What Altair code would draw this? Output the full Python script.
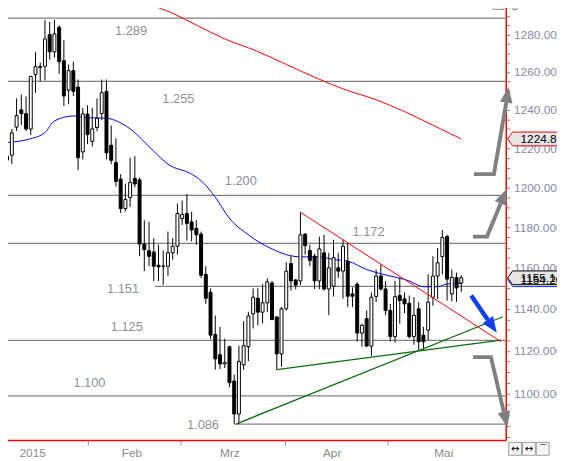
import altair as alt
import pandas as pd

# ---------------- data ----------------
# daily candles (trading-day index 0..97)
opens = [1219, 1216, 1216.5, 1231, 1240, 1238, 1230, 1258.6, 1262.3, 1263,
         1280, 1270.7, 1284, 1266, 1250.3, 1260.7, 1252, 1218.2, 1237.8, 1223.6,
         1230.8, 1238.1, 1249.7, 1221.6, 1212.7, 1204.3, 1189.4, 1194.9, 1204.6, 1203.9,
         1171.7, 1168.4, 1167.8, 1161.3, 1160.8, 1160.8, 1167.4, 1170.6, 1184.4, 1186.9,
         1182.7, 1179.5, 1176.6, 1156.8, 1148.1, 1127.8, 1118.2, 1113.9, 1122, 1105.9,
         1090.6, 1113.5, 1122, 1137.7, 1145.2, 1138.5, 1143, 1152.6, 1136.2, 1118.6,
         1140.1, 1162.1, 1154.1, 1153.6, 1176.6, 1168.5, 1165.7, 1153.6, 1167.4, 1149.7,
         1151, 1160, 1158.4, 1163.3, 1147.3, 1152, 1128.5, 1135.4, 1122.3, 1146.1,
         1156, 1149.7, 1139.3, 1126.8, 1146.5, 1144.9, 1142.8, 1126.8, 1140.1, 1127.5,
         1129.9, 1145.7, 1156, 1165.5, 1175.4, 1147.3, 1155.3, 1152.6]
highs = [1223, 1218, 1230, 1246, 1248, 1247, 1258, 1270.7, 1265, 1288,
         1287, 1288, 1285, 1277, 1264, 1265.5, 1256, 1241, 1242.4, 1241,
         1246, 1256, 1256, 1231.8, 1225.3, 1206.8, 1202, 1215.2, 1216, 1205,
         1183.6, 1182.8, 1174.6, 1171.4, 1168.5, 1177.9, 1174.6, 1191.9, 1193.5, 1196.8,
         1187.7, 1183.6, 1177.9, 1160.8, 1150, 1136.9, 1131.5, 1125.8, 1122.5, 1108.9,
         1122.5, 1134.2, 1138.7, 1150, 1150, 1152, 1154.8, 1153.6, 1136.5, 1141,
         1162.8, 1166, 1154.5, 1187.7, 1177.1, 1171.4, 1166.9, 1175.4, 1176.3, 1167.4,
         1173.8, 1167.4, 1173.8, 1172.2, 1150.5, 1153, 1133, 1139.3, 1148, 1159.2,
         1161.7, 1153.6, 1142.5, 1153.6, 1155.3, 1148, 1146.5, 1145.7, 1143.3, 1131.5,
         1156.8, 1165.7, 1169.8, 1178.7, 1176.3, 1159.2, 1157.7, 1156.4]
lows = [1211, 1209, 1212, 1229, 1232, 1229, 1227, 1249, 1255, 1255.5,
        1266.5, 1267.7, 1259, 1242, 1243, 1247.3, 1208.8, 1214.4, 1222.2, 1221,
        1228.8, 1234.7, 1214.4, 1211.9, 1200.5, 1187.2, 1188, 1190.2, 1200.1, 1165.7,
        1158.4, 1160.8, 1153.6, 1153.6, 1151.6, 1156, 1164, 1166.5, 1181.2, 1173.5,
        1173, 1171.4, 1155, 1142.5, 1125.6, 1111.2, 1111.5, 1112, 1103.1, 1086.1,
        1086.1, 1111.2, 1115.2, 1130.7, 1132.2, 1133.2, 1138.5, 1134.6, 1111.2, 1112.6,
        1139.3, 1148.9, 1149.6, 1151.6, 1166.5, 1160.8, 1149.6, 1149.6, 1148.9, 1137,
        1146, 1155, 1145, 1141, 1141, 1124.5, 1122, 1122, 1117.7, 1143.4,
        1148.9, 1137, 1124.5, 1124, 1133, 1138, 1126, 1123, 1120.5, 1120.5,
        1125.2, 1141.6, 1144.9, 1156.8, 1144.1, 1143.7, 1143.5, 1148.2]
closes = [1214, 1214, 1228, 1237, 1238, 1230, 1257.6, 1262.8, 1263, 1277.7,
          1270.7, 1280.4, 1265.5, 1247.3, 1260.7, 1249.7, 1215.2, 1237.8, 1227.1, 1230.1,
          1235.6, 1249, 1217.7, 1213.9, 1203.1, 1189.4, 1194, 1202.6, 1201.8, 1171.7,
          1168.9, 1165.7, 1160.8, 1160.5, 1160.9, 1167.4, 1170.6, 1186.9, 1186.4, 1182,
          1178.7, 1176.3, 1156.4, 1145.2, 1127.5, 1116.3, 1113.9, 1114.6, 1105.1, 1090.6,
          1115.1, 1122.5, 1136.7, 1145.7, 1138.5, 1143, 1153.2, 1135, 1118.6, 1140.1,
          1158.4, 1153.6, 1151.6, 1176.3, 1170.9, 1163.6, 1153.6, 1169.3, 1149.7, 1160,
          1165, 1158.4, 1170.6, 1146.2, 1146.2, 1128.5, 1132.2, 1122.3, 1145.7, 1156,
          1149.7, 1139.3, 1126.8, 1146, 1144.1, 1142.5, 1126.8, 1137, 1124.4, 1124.4,
          1143.3, 1156, 1162.5, 1174.9, 1154.5, 1155.3, 1150.2, 1155.14]

# long moving average (red) and short moving average (blue)
ma_red_idx = [28, 31, 36, 41, 47, 54, 60, 66, 72, 79, 85, 91, 97]
ma_red_val = [1302, 1297, 1291.6, 1285.2, 1277.7, 1270.9, 1264, 1257.2, 1251, 1245.3,
              1239.1, 1232, 1224.86]
ma_blue_idx = [0, 6, 9, 11, 15, 18, 22, 27, 32, 35, 40, 42, 45, 48, 52, 54, 57, 60, 63,
               67, 70, 73, 77, 79, 82, 86, 89, 92, 94, 97]
ma_blue_val = [1222.8, 1225, 1228.2, 1234.2, 1236.8, 1235.9, 1235.6, 1230.1, 1218.5,
               1211.9, 1206.8, 1203.5, 1195.1, 1184.5, 1176.3, 1173, 1169.3, 1166.5,
               1165.4, 1165.4, 1164.1, 1163.3, 1159.2, 1157.7, 1156, 1153.6, 1150.8,
               1150.8, 1152.1, 1152.4]

# horizontal price levels
level_val = [1289, 1255, 1196, 1172, 1151, 1125, 1099, 1086]
level_start = [-0.48, -0.48, -0.48, -0.48, 32.2, -0.48, -0.48, 49]
level_text = ["1.289", "1.255", "1.200", "1.172", "1.151", "1.125", "1.100", "1.086"]
level_text_i = [27.2, 37.2, 50.4, 77.4, 25.5, 26.3, 18.4, 42.4]
level_text_p = [1281.8, 1245.5, 1203.5, 1177.9, 1149.7, 1131.3, 1104.9, 1085.3]

# trend lines
green_id = ["g1", "g1", "g2", "g2"]
green_i = [49.5, 105.8, 58, 105.4]
green_p = [1086.1, 1136.3, 1111.2, 1125.2]
red_tl_i = [62.9, 105.4]
red_tl_p = [1187.7, 1124.4]

# scenario arrows
arrow_id = ["a1", "a1", "a1", "a2", "a2", "a2", "a3", "a3", "a3"]
arrow_k = [0, 1, 2, 0, 1, 2, 0, 1, 2]
arrow_i = [99.67, 103.9, 106.5, 99.46, 102.44, 105.33, 99.46, 103.27, 105.98]
arrow_p = [1206.8, 1206.8, 1243.7, 1175.4, 1175.4, 1192.0, 1117.1, 1117.1, 1091.6]
head_i = [106.75, 105.96, 106.38]
head_p = [1247.9, 1195.6, 1088.1]
head_angle = [9, 22.5, 166.8]
blue_arrow_i = [99.1, 102.6]
blue_arrow_p = [1146.5, 1134.9]
blue_head_i = [103.56]
blue_head_p = [1131.8]
blue_head_angle = [145.3]

# axes
month_ticks = [18.06, 37.75, 59.7, 81.5]
month_pos = [6.4, 27.4, 48.1, 69.7, 93.3]
month_labels = ["2015", "Feb", "Mrz", "Apr", "Mai"]
y_ticks = list(range(1080, 1300, 5))

# price tags on the axis
tag_text = ["1154.20", "1224.86", "1155.14"]
tag_p = [1154.2, 1224.86, 1155.14]
tag_stroke = ["#1030ff", "#ff0000", "#000000"]

# ---------------- chart ----------------
X_DOMAIN = [-0.48, 106.4]
Y_DOMAIN = [1078.7, 1297.0]
xs = alt.Scale(domain=X_DOMAIN, nice=False, zero=False, padding=0)
ys = alt.Scale(type="log", domain=Y_DOMAIN, nice=False, padding=0)
FONT = "Liberation Sans"

xaxis = alt.Axis(values=month_ticks, labels=False, tickSize=5, tickColor="#8c8c8c",
                 domainColor="#ff0000", domainWidth=1.5, grid=False, title=None)
yaxis = alt.Axis(orient="right", values=y_ticks,
                 labelExpr="datum.value % 20 == 0 && datum.value > 1090 ? format(datum.value, '.3f') : ''",
                 tickSize=4, tickColor="#7a7a8a", domainColor="#ff0000", domainWidth=1.5,
                 labelColor="#8a87aa", labelFontSize=12, labelFont=FONT, labelPadding=4,
                 labelOverlap=False, labelFlush=False, labelBound=False, grid=False, title=None)


def X(f):
    return alt.X(f, type="quantitative", scale=xs, axis=xaxis)


def Y(f):
    return alt.Y(f, type="quantitative", scale=ys, axis=yaxis)


candles = pd.DataFrame({"i": list(range(len(opens))), "o": opens, "h": highs,
                        "l": lows, "c": closes})
levels = pd.DataFrame({"x1": level_start, "x2": [X_DOMAIN[1]] * len(level_val),
                       "p": level_val})
level_lbl = pd.DataFrame({"t": level_text, "i": level_text_i, "p": level_text_p})
red_ma = pd.DataFrame({"i": ma_red_idx, "p": ma_red_val})
blue_ma = pd.DataFrame({"i": ma_blue_idx, "p": ma_blue_val})
green = pd.DataFrame({"id": green_id, "i": green_i, "p": green_p})
red_tl = pd.DataFrame({"i": red_tl_i, "p": red_tl_p})
arrows = pd.DataFrame({"id": arrow_id, "k": arrow_k, "i": arrow_i, "p": arrow_p})
heads = pd.DataFrame({"i": head_i, "p": head_p, "a": head_angle})
barrow = pd.DataFrame({"i": blue_arrow_i, "p": blue_arrow_p})
bhead = pd.DataFrame({"i": blue_head_i, "p": blue_head_p, "a": blue_head_angle})
months = pd.DataFrame({"i": month_pos, "t": month_labels})
tags = pd.DataFrame({"t": tag_text, "p": tag_p, "s": tag_stroke})
one = pd.DataFrame({"z": [0]})

HEAD = "M0,-1L0.8,1L-0.8,1Z"

lvl_rules = alt.Chart(levels).mark_rule(color="#808080", strokeWidth=1.3).encode(
    x=X("x1"), x2="x2", y=Y("p"))
lvl_text = alt.Chart(level_lbl).mark_text(font=FONT, fontSize=13, color="#8e8e98",
                                          baseline="middle").encode(
    x=X("i"), y=Y("p"), text="t")
red_line = alt.Chart(red_ma).mark_line(color="#ff0000", strokeWidth=1, clip=True,
                                       interpolate="monotone").encode(x=X("i"), y=Y("p"))
blue_line = alt.Chart(blue_ma).mark_line(color="#0000ff", strokeWidth=1,
                                         interpolate="monotone").encode(x=X("i"), y=Y("p"))
wicks = alt.Chart(candles).mark_rule(color="black", strokeWidth=1).encode(
    x=X("i"), y=Y("l"), y2="h")
bodies = alt.Chart(candles).mark_bar(size=3, stroke="black", strokeWidth=1).encode(
    x=X("i"), y=Y("o"), y2="c",
    fill=alt.condition("datum.c >= datum.o", alt.value("white"), alt.value("black")))
green_lines = alt.Chart(green).mark_line(color="#0a6e0a", strokeWidth=1.3).encode(
    x=X("i"), y=Y("p"), detail="id")
red_trend = alt.Chart(red_tl).mark_line(color="#ff0000", strokeWidth=1).encode(
    x=X("i"), y=Y("p"))
gray_arrows = alt.Chart(arrows).mark_line(color="#808080", strokeWidth=4,
                                          strokeJoin="miter", strokeCap="butt").encode(
    x=X("i"), y=Y("p"), detail="id", order="k")
gray_heads = alt.Chart(heads).mark_point(shape=HEAD, filled=True, size=256,
                                         color="#808080", opacity=1).encode(
    x=X("i"), y=Y("p"), angle=alt.Angle("a", type="quantitative", scale=None))
blue_arrow = alt.Chart(barrow).mark_line(color="#1040f0", strokeWidth=4.5,
                                         strokeCap="butt").encode(x=X("i"), y=Y("p"))
blue_head = alt.Chart(bhead).mark_point(shape=HEAD, filled=True, size=256,
                                        color="#1040f0", opacity=1).encode(
    x=X("i"), y=Y("p"), angle=alt.Angle("a", type="quantitative", scale=None))
month_text = alt.Chart(months).mark_text(font=FONT, fontSize=12, color="#8c8c8c",
                                         baseline="middle").encode(
    x=X("i"), y=alt.value(456), text="t")
tag_path = "M-1,0L-0.83,-0.24L1,-0.24L1,0.24L-0.83,0.24Z"
tag_box = alt.Chart(tags).mark_point(shape=tag_path, size=3364, filled=True, fill="#e6e6e6",
                                     strokeWidth=1, opacity=1).encode(
    x=alt.value(544), y=Y("p"), stroke=alt.Stroke("s", type="nominal", scale=None))
tag_text_m = alt.Chart(tags).mark_text(font=FONT, fontSize=12, color="black", align="left",
                                       baseline="middle").encode(
    x=alt.value(528), y=Y("p"), text="t")
dollar = alt.Chart(one).mark_text(text="$", font=FONT, fontSize=11, color="#8a87aa",
                                  align="left").encode(x=alt.value(519), y=alt.value(4))
close_box = alt.Chart(one).mark_point(shape="square", size=110, fill="#f0f0f0", filled=True,
                                      stroke="#9a9a9a", strokeWidth=1, opacity=1).encode(
    x=alt.value(506), y=alt.value(1))
close_x = alt.Chart(one).mark_text(text="x", font=FONT, fontSize=10, color="#606060").encode(
    x=alt.value(506), y=alt.value(2))
icon_df = pd.DataFrame({"xp": [522.5, 536.5, 550.5], "t": ["↔", "↔", "⌒"]})
icon_box = alt.Chart(icon_df).mark_point(shape="square", size=170, fill="#f4f4f4",
                                         filled=True, stroke="#a0a0a0", strokeWidth=1,
                                         opacity=1).encode(
    x=alt.X("xp", type="quantitative", scale=None), y=alt.value(452))
icon_txt = alt.Chart(icon_df).mark_text(font="DejaVu Sans", fontSize=10, color="black",
                                        baseline="middle").encode(
    x=alt.X("xp", type="quantitative", scale=None), y=alt.value(452), text="t")

chart = alt.layer(
    lvl_rules, lvl_text, red_line, blue_line, wicks, bodies, green_lines, red_trend,
    gray_arrows, gray_heads, blue_arrow, blue_head, month_text,
    tag_box, tag_text_m, dollar, close_box, close_x, icon_box, icon_txt
).properties(
    width=513, height=443,
    padding={"left": -8, "top": -8, "right": 52, "bottom": 18},
    autosize=alt.AutoSizeParams(type="none"),
    background="white",
).configure_view(strokeWidth=0)

chart.save("out.html", embed_options={"renderer": "svg", "actions": False})
